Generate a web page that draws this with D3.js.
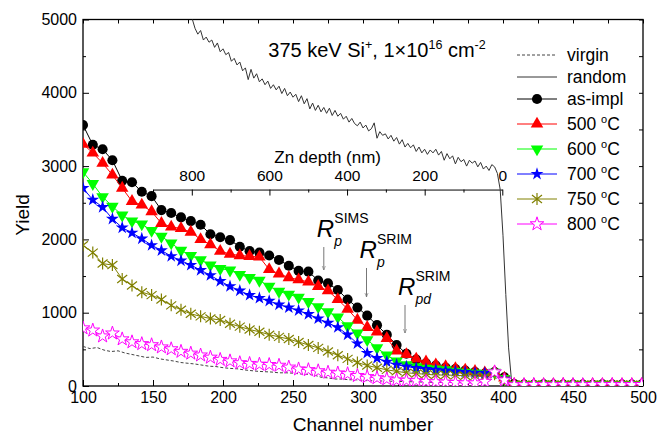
<!DOCTYPE html>
<html>
<head>
<meta charset="utf-8">
<script src="https://cdn.jsdelivr.net/npm/d3@7"></script>
<style>
  body { margin: 0; background: #fff; }
  svg text { font-family: "Liberation Sans", Arial, sans-serif; fill: #000; }
</style>
</head>
<body>
<div id="chart"></div>
<script>
// channel of every marker (one marker each 7 channels)
var channels = d3.range(100, 500, 7);

// yields, one per channel above
var asImpl = [3560, 3290, 3230, 3080, 2800, 2780, 2650, 2590, 2400, 2360,
              2300, 2250, 2200, 2070, 2030, 1990, 1900, 1840, 1820, 1780,
              1720, 1640, 1570, 1560, 1440, 1400, 1310, 1180, 1070, 960,
              830, 700, 560, 440, 360, 310, 280, 250, 230, 210,
              190, 170, 190, 120, 25,
              20, 18, 22, 20, 19, 21, 20, 18, 22, 20, 19, 21, 20];
var t500 = [3300, 3180, 3040, 2880, 2700, 2520, 2470, 2380, 2220, 2170,
            2150, 2100, 2000, 1930, 1840, 1800, 1780, 1770, 1760, 1590,
            1530, 1480, 1450, 1420, 1360, 1300, 1180, 1050, 900, 800,
            740, 650, 480, 430, 370, 330, 290, 265, 240, 220,
            200, 180, 190, 110, 25,
            22, 20, 19, 21, 23, 20, 18, 21, 20, 22, 19, 20, 21];
var t600 = [2920, 2760, 2580, 2450, 2330, 2250, 2210, 2120, 2040, 1950,
            1850, 1780, 1720, 1650, 1600, 1580, 1520, 1480, 1440, 1360,
            1290, 1250, 1210, 1150, 1080, 1010, 940, 820, 720, 630,
            520, 420, 340, 290, 260, 240, 230, 220, 200, 185,
            175, 165, 185, 100, 20,
            18, 20, 21, 19, 20, 22, 18, 20, 21, 19, 20, 18, 20];
var t700 = [2700, 2540, 2440, 2280, 2160, 2090, 2010, 1920, 1850, 1770,
            1710, 1650, 1580, 1510, 1430, 1360, 1300, 1240, 1200, 1160,
            1110, 1070, 1030, 980, 920, 860, 800, 700, 580, 450,
            380, 330, 290, 265, 245, 230, 220, 210, 200, 190,
            180, 175, 180, 100, 20,
            20, 22, 19, 20, 18, 21, 22, 19, 20, 21, 18, 20, 22];
var t750 = [1920, 1820, 1670, 1650, 1460, 1370, 1280, 1240, 1180, 1100,
            1040, 985, 950, 920, 900, 850, 810, 770, 740, 700,
            670, 640, 600, 560, 520, 470, 420, 370, 320, 280,
            250, 220, 200, 180, 170, 160, 150, 150, 145, 140,
            135, 130, 160, 90, 20,
            19, 18, 20, 21, 19, 20, 18, 21, 19, 20, 22, 19, 18];
var t800 = [790, 760, 680, 720, 640, 600, 575, 560, 530, 505,
            470, 445, 420, 390, 360, 340, 315, 305, 295, 290,
            280, 255, 230, 220, 205, 185, 175, 165, 140, 125,
            110, 95, 80, 75, 70, 60, 55, 50, 45, 40,
            40, 60, 190, 80, 15,
            15, 17, 16, 15, 18, 16, 15, 17, 16, 18, 15, 16, 17];

// virgin and random spectra: [channel, yield]
var virgin = [[100,540],[105,510],[110,525],[115,490],[120,470],[125,480],[130,450],[135,430],
  [140,410],[145,390],[150,395],[155,370],[160,355],[165,340],[170,320],[175,310],[180,300],
  [185,285],[190,270],[195,265],[200,250],[205,240],[210,235],[215,220],[220,210],[225,200],
  [230,195],[235,190],[240,180],[245,180],[250,175],[255,165],[260,160],[265,150],[270,120],
  [275,110],[280,95],[285,95],[290,85],[295,85],[300,75],[310,70],[320,65],[330,60],[340,55],
  [350,50],[360,50],[370,50],[380,55],[390,80],[395,110],[400,70],[405,15],[410,8],[450,8],[500,8]];
var random = [[172,5350],[174,5200],[176,5120],[178,5010],[180,4880],[182,4800],[184,4850],
  [186,4720],[188,4760],[190,4690],[192,4720],[194,4620],[196,4680],[198,4560],[200,4600],
  [202,4520],[204,4550],[206,4430],[208,4470],[210,4380],[212,4420],[214,4300],[216,4340],
  [218,4180],[220,4320],[222,4200],[224,4260],[226,4150],[228,4190],[230,4110],[232,4160],
  [234,4060],[236,4110],[238,4040],[240,4090],[242,3990],[244,4060],[246,3960],[248,4010],
  [250,3940],[252,3980],[254,3880],[256,3960],[258,3850],[260,3920],[262,3780],[264,3860],
  [266,3760],[268,3830],[270,3740],[272,3800],[274,3720],[276,3790],[278,3690],[280,3760],
  [282,3680],[284,3720],[286,3640],[288,3680],[290,3600],[292,3650],[294,3580],[296,3550],
  [298,3600],[300,3520],[302,3560],[304,3480],[306,3510],[308,3590],[310,3380],[312,3470],
  [314,3420],[316,3440],[318,3370],[320,3420],[322,3340],[324,3390],[326,3300],[328,3360],
  [330,3260],[332,3310],[334,3250],[336,3290],[338,3200],[340,3260],[342,3180],[344,3230],
  [346,3160],[348,3220],[350,3180],[352,3230],[354,3150],[356,3200],[358,3080],[360,3170],
  [362,3100],[364,3140],[366,3030],[368,3120],[370,3060],[372,3090],[374,3000],[376,3080],
  [378,3040],[380,3070],[382,2990],[384,3050],[386,2960],[388,3000],[390,2940],[392,3020],
  [394,2990],[396,2900],[398,2680],[400,2050],[402,1250],[404,520],[406,90],[408,20],
  [420,10],[440,10],[460,10],[480,10],[500,10]];

var seriesNames = ["as-impl", "500", "600", "700", "750", "800"];
var seriesColors = ["#000000", "#ff0000", "#00ff00", "#0000ff", "#808000", "#ff00ff"];
var seriesValues = [asImpl, t500, t600, t700, t750, t800];

var depthTicks = [800, 600, 400, 200, 0];
var depthMinor = [900, 700, 500, 300, 100];

// arrows: channel, start yield, tip yield, label sub
var markChannels = [272, 302.5, 330];
var markFrom = [1896, 1610, 1105];
var markTo = [1583, 1214, 723];
var markSub = ["p", "p", "pd"];

var W = 665, H = 436;
var x = d3.scaleLinear().domain([100, 500]).range([83, 643]);
var y = d3.scaleLinear().domain([0, 5000]).range([386, 19.5]);

var svg = d3.select("#chart").append("svg").attr("width", W).attr("height", H);

svg.append("clipPath").attr("id", "clip")
   .append("rect").attr("x", 83).attr("y", 19.5).attr("width", 560).attr("height", 366.5);

// axes, ticks inward
function styleAxis(g) {
  g.select(".domain").remove();
  g.selectAll(".tick line").attr("stroke", "#000").attr("stroke-width", 1);
  g.selectAll("text").style("font-size", "16px").attr("fill", "#000");
}
svg.append("g").attr("transform", "translate(0,386)")
   .call(d3.axisBottom(x).tickValues(d3.range(100, 501, 50)).tickSize(-6).tickPadding(6))
   .call(styleAxis);
svg.append("g").attr("transform", "translate(0,386)")
   .call(d3.axisBottom(x).tickValues(d3.range(125, 500, 50)).tickSize(-3).tickFormat(""))
   .call(styleAxis);
svg.append("g").attr("transform", "translate(0,19.5)")
   .call(d3.axisTop(x).tickValues(d3.range(100, 501, 25)).tickSize(-4).tickFormat(""))
   .call(styleAxis);
svg.append("g").attr("transform", "translate(83,0)")
   .call(d3.axisLeft(y).tickValues(d3.range(0, 5001, 1000)).tickSize(-6).tickPadding(6)
           .tickFormat(d3.format("d")))
   .call(styleAxis);
svg.append("g").attr("transform", "translate(83,0)")
   .call(d3.axisLeft(y).tickValues(d3.range(500, 5000, 1000)).tickSize(-3).tickFormat(""))
   .call(styleAxis);
svg.append("g").attr("transform", "translate(643,0)")
   .call(d3.axisRight(y).tickValues(d3.range(0, 5001, 500)).tickSize(-4).tickFormat(""))
   .call(styleAxis);

svg.append("rect").attr("x", 83).attr("y", 19.5).attr("width", 560).attr("height", 366.5)
   .attr("fill", "none").attr("stroke", "#000").attr("stroke-width", 1.3);

// depth axis inside the plot
var depth = d3.scaleLinear().domain([900, 0]).range([x(150), x(399.5)]);
var dy0 = y(2680);
var dAxis = svg.append("g").attr("transform", "translate(0," + dy0 + ")")
   .call(d3.axisTop(depth).tickValues(depthTicks).tickSize(-6).tickSizeOuter(0).tickPadding(9));
dAxis.select(".domain").attr("stroke", "#000");
dAxis.selectAll("text").style("font-size", "15.5px").attr("fill", "#000");
svg.append("g").attr("transform", "translate(0," + dy0 + ")")
   .call(d3.axisTop(depth).tickValues(depthMinor).tickSize(-3).tickFormat(""))
   .call(function (g) { g.select(".domain").remove(); });
svg.append("text").attr("x", depth(450)).attr("y", dy0 - 27)
   .attr("text-anchor", "middle").style("font-size", "17px").text("Zn depth (nm)");

// data
var plot = svg.append("g").attr("clip-path", "url(#clip)");
var line = d3.line().x(function (d) { return x(d[0]); }).y(function (d) { return y(d[1]); });

plot.append("path").datum(virgin).attr("d", line).attr("fill", "none")
    .attr("stroke", "#444").attr("stroke-width", 1).attr("stroke-dasharray", "3,2");
plot.append("path").datum(random).attr("d", line).attr("fill", "none")
    .attr("stroke", "#333").attr("stroke-width", 1);

function marker(sel, i) {
  var c = seriesColors[i];
  if (i === 0) {
    sel.append("path").attr("d", d3.symbol().type(d3.symbolCircle).size(80)).attr("fill", c);
  } else if (i === 1) {
    sel.append("path").attr("d", d3.symbol().type(d3.symbolTriangle).size(68)).attr("fill", c);
  } else if (i === 2) {
    sel.append("path").attr("d", d3.symbol().type(d3.symbolTriangle).size(68))
       .attr("transform", "rotate(180)").attr("fill", c);
  } else if (i === 3) {
    sel.append("path").attr("d", d3.symbol().type(d3.symbolStar).size(52)).attr("fill", c);
  } else if (i === 4) {
    sel.append("path").attr("d", "M0,-6L0,6M-5,-4L5,4M-5,4L5,-4")
       .attr("stroke", c).attr("stroke-width", 1.2).attr("fill", "none");
  } else {
    sel.append("path").attr("d", d3.symbol().type(d3.symbolStar).size(58))
       .attr("fill", "#fff").attr("stroke", c).attr("stroke-width", 1);
  }
}

seriesValues.forEach(function (vals, i) {
  var pts = channels.map(function (c, k) { return [c, vals[k]]; });
  plot.append("path").datum(pts).attr("d", line).attr("fill", "none")
      .attr("stroke", seriesColors[i]).attr("stroke-width", 1);
  plot.selectAll(".m" + i).data(pts).enter().append("g").attr("class", "m" + i)
      .attr("transform", function (d) { return "translate(" + x(d[0]) + "," + y(d[1]) + ")"; })
      .each(function () { marker(d3.select(this), i); });
});

// arrows and labels
svg.append("defs").append("marker").attr("id", "head")
   .attr("viewBox", "0 0 10 10").attr("refX", 10).attr("refY", 5)
   .attr("markerWidth", 4).attr("markerHeight", 8).attr("orient", "auto")
   .append("path").attr("d", "M0,1L10,5L0,9").attr("fill", "none").attr("stroke", "#777").attr("stroke-width", 1.5);

markChannels.forEach(function (c, i) {
  var ax = x(c), ay = y(markFrom[i]);
  svg.append("line").attr("x1", ax).attr("x2", ax).attr("y1", ay).attr("y2", y(markTo[i]))
     .attr("stroke", "#777").attr("stroke-width", 1).attr("marker-end", "url(#head)");
  var t = svg.append("g").attr("transform", "translate(" + (ax - 7) + "," + (ay - 10) + ")");
  t.append("text").attr("x", 0).attr("y", 0).style("font-size", "24px").style("font-style", "italic").text("R");
  t.append("text").attr("x", 17.5).attr("y", -14).style("font-size", "14px").text(i === 0 ? "SIMS" : "SRIM");
  t.append("text").attr("x", 17.5).attr("y", 9).style("font-size", "14px").style("font-style", "italic").text(markSub[i]);
});

// title
var title = svg.append("text").attr("x", 377).attr("y", 57).attr("text-anchor", "middle")
   .style("font-size", "20px");
title.append("tspan").text("375 keV Si");
title.append("tspan").attr("dy", -8).style("font-size", "12.5px").text("+");
title.append("tspan").attr("dy", 8).text(", 1\u00d710");
title.append("tspan").attr("dy", -8).style("font-size", "12.5px").text("16");
title.append("tspan").attr("dy", 8).text(" cm");
title.append("tspan").attr("dy", -8).style("font-size", "12.5px").text("-2");

// legend
var legendY = [55, 77, 99, 124, 149, 174, 199, 224];
var lg = svg.append("g");
lg.append("line").attr("x1", 517).attr("x2", 557).attr("y1", legendY[0]).attr("y2", legendY[0])
  .attr("stroke", "#444").attr("stroke-dasharray", "3,2");
lg.append("text").attr("x", 567).attr("y", legendY[0] + 6).style("font-size", "17.5px").text("virgin");
lg.append("line").attr("x1", 517).attr("x2", 557).attr("y1", legendY[1]).attr("y2", legendY[1])
  .attr("stroke", "#333");
lg.append("text").attr("x", 567).attr("y", legendY[1] + 6).style("font-size", "17.5px").text("random");
seriesNames.forEach(function (n, i) {
  var ly = legendY[i + 2];
  lg.append("line").attr("x1", 517).attr("x2", 557).attr("y1", ly).attr("y2", ly)
    .attr("stroke", seriesColors[i]).attr("stroke-width", 1);
  var m = lg.append("g").attr("transform", "translate(537," + ly + ")");
  marker(m, i);
  var tx = lg.append("text").attr("x", 567).attr("y", ly + 6).style("font-size", "17.5px");
  if (i === 0) { tx.text(n); }
  else {
    tx.append("tspan").text(n + " ");
    tx.append("tspan").attr("dy", -7).style("font-size", "11px").text("o");
    tx.append("tspan").attr("dy", 7).text("C");
  }
});

// axis titles
svg.append("text").attr("x", 363).attr("y", 431).attr("text-anchor", "middle")
   .style("font-size", "19px").text("Channel number");
svg.append("text").attr("transform", "translate(29,215) rotate(-90)").attr("text-anchor", "middle")
   .style("font-size", "19px").text("Yield");
</script>
</body>
</html>
